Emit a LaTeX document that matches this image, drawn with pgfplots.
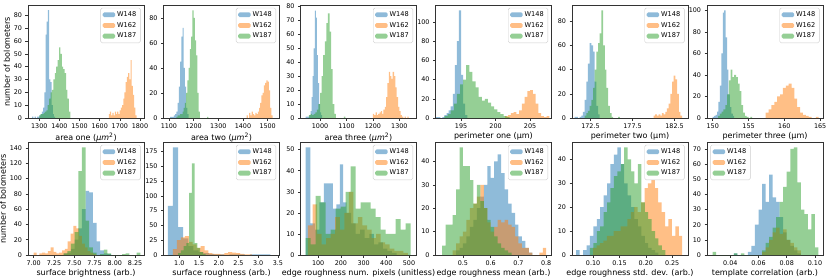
\documentclass[border=0pt]{standalone}
\usepackage{fontspec}
\setmainfont{DejaVu Sans}
\usepackage{pgfplots}
\pgfplotsset{compat=1.18}
\definecolor{cA}{RGB}{31,119,180}
\definecolor{cB}{RGB}{255,127,14}
\definecolor{cC}{RGB}{44,160,44}
\pgfplotsset{
 panel/.style={scale only axis, width=116pt, height=113pt, anchor=south west, ymin=0,
  axis line style={black!80, line width=0.5pt},
  tick align=outside, xtick pos=bottom, ytick pos=left,
  major tick length=2.5pt, tick style={black!80, line width=0.5pt},
  tick label style={font=\fontsize{6.4}{7}\selectfont, black},
  label style={font=\fontsize{8}{9}\selectfont},
  xlabel style={yshift=3pt},
  ylabel style={yshift=-3pt},
  /pgf/number format/assume math mode=true,
  /pgf/number format/1000 sep={},
  scaled ticks=false,
  legend style={at={(0.97,0.975)}, anchor=north east, draw=black!20, rounded corners=1.5pt,
    font=\fontsize{6.6}{7.6}\selectfont, inner xsep=2pt, inner ysep=1.5pt, row sep=0.3pt, cells={anchor=west}},
  legend image code/.code={\fill[##1] (0pt,-2.4pt) rectangle (12.5pt,2.4pt);},
 },
 hA/.style={const plot, draw=none, fill=cA, fill opacity=0.5},
 hB/.style={const plot, draw=none, fill=cB, fill opacity=0.5},
 hC/.style={const plot, draw=none, fill=cC, fill opacity=0.5},
}
\begin{document}
\begin{tikzpicture}
\path[use as bounding box] (0,0) rectangle (830pt,277pt);
% ---------- top row ----------
\begin{axis}[panel, at={(28pt,159pt)}, xmin=1244, xmax=1820, ymax=88,
  xtick={1300,1400,1500,1600,1700,1800}, ytick={0,10,20,30,40,50,60,70,80},
  xlabel={area one (\textit{μm}\textsuperscript{2})}, ylabel={number of bolometers}]
\addplot[hA] coordinates {(1265,1)(1271,0)(1277,1)(1283,0)(1289,1)(1295,1)(1301,2)(1307,3)(1313,5)(1319,8)(1325,20)(1331,65)(1337,75)(1343,84)(1349,30)(1355,28)(1361,10)(1367,3)(1373,1)(1379,0)} \closedcycle;
\addplot[hB] coordinates {(1645,3)(1651,5)(1657,2)(1663,4)(1669,2)(1675,5)(1681,3)(1687,5)(1693,3)(1699,6)(1705,8)(1711,10)(1717,15)(1723,20)(1729,28)(1735,32)(1741,35)(1747,30)(1753,45)(1759,25)(1765,18)(1771,8)(1777,2)(1783,0)} \closedcycle;
\addplot[hC] coordinates {(1300,2)(1307,3)(1314,3)(1321,4)(1328,5)(1335,6)(1342,10)(1349,15)(1356,20)(1363,22)(1370,30)(1377,35)(1384,40)(1391,45)(1398,55)(1405,50)(1412,40)(1419,38)(1426,35)(1433,22)(1440,15)(1447,5)(1454,0)} \closedcycle;
\legend{W148,W162,W187}
\end{axis}
\begin{axis}[panel, at={(163.5pt,159pt)}, xmin=1078, xmax=1548, ymax=90.3,
  xtick={1100,1200,1300,1400,1500}, ytick={0,20,40,60,80},
  xlabel={area two (\textit{μm}\textsuperscript{2})}]
\addplot[hA] coordinates {(1105,1)(1110,1)(1115,1)(1120,2)(1125,3)(1130,5)(1135,12)(1140,25)(1145,45)(1150,65)(1155,72)(1160,40)(1165,25)(1170,8)(1175,3)(1180,0)} \closedcycle;
\addplot[hB] coordinates {(1415,2)(1420,0)(1425,4)(1430,2)(1435,5)(1440,3)(1445,2)(1450,4)(1455,3)(1460,5)(1465,8)(1470,12)(1475,18)(1480,20)(1485,26)(1490,28)(1495,30)(1500,29)(1505,22)(1510,8)(1515,2)(1520,0)} \closedcycle;
\addplot[hC] coordinates {(1130,1)(1135,2)(1140,2)(1145,3)(1150,3)(1155,5)(1160,8)(1165,12)(1170,20)(1175,30)(1180,40)(1185,55)(1190,65)(1195,86)(1200,80)(1205,62)(1210,50)(1215,20)(1220,5)(1225,0)(1255,1)(1260,0)} \closedcycle;
\legend{W148,W162,W187}
\end{axis}
\begin{axis}[panel, at={(300.5pt,159pt)}, xmin=926, xmax=1365, ymax=81,
  xtick={1000,1100,1200,1300}, ytick={0,10,20,30,40,50,60,70,80},
  xlabel={area three (\textit{μm}\textsuperscript{2})}]
\addplot[hA] coordinates {(945,1)(950,1)(955,1)(960,2)(964,5)(968,15)(972,30)(976,50)(980,77)(984,72)(988,45)(992,25)(996,10)(1000,4)(1004,2)(1008,0)} \closedcycle;
\addplot[hB] coordinates {(1200,3)(1205,2)(1210,4)(1215,2)(1220,3)(1225,4)(1230,5)(1235,3)(1240,6)(1245,8)(1250,15)(1255,25)(1260,33)(1265,30)(1270,28)(1275,33)(1280,30)(1285,22)(1290,15)(1295,8)(1300,5)(1305,2)(1310,1)(1315,0)(1320,1)(1325,0)(1330,1)(1335,0)} \closedcycle;
\addplot[hC] coordinates {(958,2)(964,3)(970,2)(976,3)(982,4)(988,6)(994,10)(1000,18)(1006,30)(1012,45)(1018,55)(1024,68)(1030,75)(1036,62)(1042,35)(1048,10)(1054,3)(1060,0)(1090,1)(1096,0)} \closedcycle;
\legend{W148,W162,W187}
\end{axis}
\begin{axis}[panel, at={(435.5pt,159pt)}, xmin=191.3, xmax=208.1, ymax=117.6,
  xtick={195,200,205}, ytick={0,20,40,60,80,100},
  xlabel={perimeter one (μm)}]
\addplot[hA] coordinates {(191.4,1)(191.7,1)(192.0,0)(192.3,1)(192.6,3)(192.9,5)(193.2,8)(193.5,12)(193.8,25)(194.1,55)(194.4,80)(194.7,112)(195.0,45)(195.3,15)(195.6,3)(195.9,0)} \closedcycle;
\addplot[hB] coordinates {(201.4,2)(201.8,3)(202.2,5)(202.6,6)(203.0,4)(203.4,8)(203.8,15)(204.2,22)(204.6,28)(205.0,29)(205.4,25)(205.8,15)(206.2,5)(206.6,2)(207.0,1)(207.4,2)(207.8,0)} \closedcycle;
\addplot[hC] coordinates {(192.6,2)(193.05,4)(193.5,8)(193.95,15)(194.4,25)(194.85,35)(195.3,40)(195.75,55)(196.2,48)(196.65,38)(197.1,32)(197.55,22)(198.0,18)(198.45,20)(198.9,16)(199.35,12)(199.8,9)(200.25,6)(200.7,4)(201.15,2)(201.6,1)(202.05,0)} \closedcycle;
\legend{W148,W162,W187}
\end{axis}
\begin{axis}[panel, at={(572pt,159pt)}, xmin=170.3, xmax=184.1, ymax=93.5,
  xtick={172.5,177.5,182.5}, xticklabels={172.5,177.5,182.5}, ytick={0,20,40,60,80},
  xlabel={perimeter two (μm)}]
\addplot[hA] coordinates {(170.6,1)(170.8,1)(171.0,0)(171.2,1)(171.4,2)(171.6,5)(171.8,15)(172.0,30)(172.2,45)(172.4,62)(172.6,60)(172.8,55)(173.0,30)(173.2,10)(173.4,3)(173.6,0)} \closedcycle;
\addplot[hB] coordinates {(180.0,2)(180.2,3)(180.4,2)(180.6,3)(180.8,2)(181.0,4)(181.2,3)(181.4,5)(181.6,8)(181.8,12)(182.0,20)(182.2,30)(182.4,35)(182.6,32)(182.8,20)(183.0,5)(183.2,2)(183.4,0)} \closedcycle;
\addplot[hC] coordinates {(171.8,2)(172.0,4)(172.2,6)(172.4,10)(172.6,15)(172.8,25)(173.0,40)(173.2,55)(173.4,62)(173.6,70)(173.8,89)(174.0,60)(174.2,40)(174.4,25)(174.6,10)(174.8,4)(175.0,1)(175.2,0)(175.8,1)(176.0,0)} \closedcycle;
\legend{W148,W162,W187}
\end{axis}
\begin{axis}[panel, at={(707pt,159pt)}, xmin=149.2, xmax=165.4, ymax=105,
  xtick={150,155,160,165}, ytick={0,20,40,60,80,100},
  xlabel={perimeter three (μm)}]
\addplot[hA] coordinates {(150.0,1)(150.2,2)(150.4,3)(150.6,6)(150.8,15)(151.0,30)(151.2,60)(151.4,98)(151.6,100)(151.8,75)(152.0,45)(152.2,22)(152.4,10)(152.6,4)(152.8,2)(153.0,0)} \closedcycle;
\addplot[hB] coordinates {(157.4,5)(157.8,8)(158.2,12)(158.6,15)(159.0,20)(159.4,22)(159.8,28)(160.2,30)(160.6,32)(161.0,28)(161.4,18)(161.8,10)(162.2,5)(162.6,3)(163.0,2)(163.4,1)(163.8,0)(164.4,1)(164.8,0)} \closedcycle;
\addplot[hC] coordinates {(150.75,2)(151.0,4)(151.25,6)(151.5,8)(151.75,12)(152.0,22)(152.25,35)(152.5,45)(152.75,38)(153.0,40)(153.25,38)(153.5,32)(153.75,25)(154.0,12)(154.25,5)(154.5,2)(154.75,1)(155.0,0)(155.25,1)(155.5,0)} \closedcycle;
\legend{W148,W162,W187}
\end{axis}
% ---------- bottom row ----------
\begin{axis}[panel, at={(28pt,22pt)}, xmin=6.93, xmax=8.36, ymax=148,
  xtick={7,7.25,7.5,7.75,8,8.25}, xticklabels={7.00,7.25,7.50,7.75,8.00,8.25}, ytick={0,20,40,60,80,100,120,140},
  xlabel={surface brightness (arb.)}, ylabel={number of bolometers}]
\addplot[hA] coordinates {(7.37,2)(7.415,3)(7.46,8)(7.505,20)(7.55,35)(7.595,60)(7.64,84)(7.685,82)(7.73,42)(7.775,18)(7.82,6)(7.865,2)(7.91,1)(7.955,0)} \closedcycle;
\addplot[hB] coordinates {(7.00,3)(7.035,0)(7.07,2)(7.105,3)(7.14,2)(7.175,5)(7.21,10)(7.245,4)(7.28,2)(7.315,3)(7.35,6)(7.385,8)(7.42,18)(7.455,28)(7.49,38)(7.525,35)(7.56,25)(7.595,15)(7.63,10)(7.665,5)(7.70,3)(7.735,1)(7.77,0)} \closedcycle;
\addplot[hC] coordinates {(7.37,2)(7.415,5)(7.46,15)(7.505,30)(7.55,110)(7.595,141)(7.64,45)(7.685,10)(7.73,3)(7.775,0)(7.82,1)(7.865,7)(7.91,2)(7.955,0)(8.09,1)(8.135,2)(8.18,0)(8.27,3)(8.315,0)} \closedcycle;
\legend{W148,W162,W187}
\end{axis}
\begin{axis}[panel, at={(163.5pt,22pt)}, xmin=0.6, xmax=3.54, ymax=191,
  xtick={1,1.5,2,2.5,3,3.5}, xticklabels={1.0,1.5,2.0,2.5,3.0,3.5}, ytick={0,25,50,75,100,125,150,175},
  xlabel={surface roughness (arb.)}]
\addplot[hA] coordinates {(0.71,83)(0.84,182)(0.97,47)(1.10,28)(1.23,15)(1.36,8)(1.49,5)(1.62,3)(1.75,2)(1.88,1)(2.01,1)(2.14,0)(2.27,1)(2.40,1)(2.53,1)(2.66,0)(2.79,1)(2.92,1)(3.05,1)(3.18,1)(3.31,0)} \closedcycle;
\addplot[hB] coordinates {(0.84,10)(0.94,25)(1.04,30)(1.14,32)(1.24,22)(1.34,18)(1.44,12)(1.54,15)(1.64,8)(1.74,3)(1.84,2)(1.94,2)(2.04,1)(2.14,3)(2.24,5)(2.34,4)(2.44,3)(2.54,2)(2.64,1)(2.74,1)(2.84,0)} \closedcycle;
\addplot[hC] coordinates {(0.97,3)(1.04,8)(1.11,15)(1.18,20)(1.25,105)(1.32,155)(1.39,20)(1.46,12)(1.53,5)(1.60,2)(1.67,0)} \closedcycle;
\legend{W148,W162,W187}
\end{axis}
\begin{axis}[panel, at={(300.5pt,22pt)}, xmin=22, xmax=533, ymax=53.6,
  xtick={100,200,300,400,500}, ytick={0,10,20,30,40,50},
  xlabel={edge roughness num. pixels (unitless)}]
\addplot[hA] coordinates {(45,51)(65,15)(85,12)(105,25)(125,34)(145,34)(165,22)(180,24)(195,43)(210,25)(225,20)(245,15)(265,10)(285,12)(305,8)(325,10)(345,5)(365,6)(385,3)(405,2)(425,1)(445,0)} \closedcycle;
\addplot[hB] coordinates {(55,14)(75,24)(95,10)(115,5)(135,8)(155,10)(175,18)(195,12)(215,20)(235,30)(255,15)(275,18)(295,14)(315,12)(335,8)(355,10)(375,6)(395,5)(415,3)(435,2)(455,2)(475,1)(495,0)} \closedcycle;
\addplot[hC] coordinates {(45,8)(67,5)(89,28)(111,25)(133,10)(155,12)(177,22)(199,23)(221,30)(243,42)(265,22)(287,25)(309,25)(331,22)(353,18)(375,12)(397,10)(419,10)(441,17)(463,12)(485,15)(507,0)} \closedcycle;
\legend{W148,W162,W187}
\end{axis}
\begin{axis}[panel, at={(435.5pt,22pt)}, xmin=0.401, xmax=0.819, ymax=48.3,
  xtick={0.5,0.6,0.7,0.8}, xticklabels={0.5,0.6,0.7,0.8}, ytick={0,10,20,30,40},
  xlabel={edge roughness mean (arb.)}]
\addplot[hA] coordinates {(0.475,2)(0.4875,3)(0.5,5)(0.5125,8)(0.525,12)(0.5375,15)(0.55,20)(0.5625,25)(0.575,30)(0.5875,38)(0.6,33)(0.6125,40)(0.625,43)(0.6375,35)(0.65,28)(0.6625,22)(0.675,18)(0.6875,13)(0.7,8)(0.7125,6)(0.725,3)(0.7375,1)(0.75,0)} \closedcycle;
\addplot[hB] coordinates {(0.4625,2)(0.475,5)(0.4875,8)(0.5,10)(0.5125,15)(0.525,20)(0.5375,22)(0.55,25)(0.5625,30)(0.575,20)(0.5875,14)(0.6,10)(0.6125,12)(0.625,15)(0.6375,14)(0.65,15)(0.6625,13)(0.675,12)(0.6875,8)(0.7,5)(0.7125,3)(0.725,3)(0.7375,1)(0.75,0)(0.775,1)(0.7875,3)(0.8,0)} \closedcycle;
\addplot[hC] coordinates {(0.425,4)(0.4375,13)(0.45,13)(0.4625,17)(0.475,28)(0.4875,46)(0.5,38)(0.5125,38)(0.525,32)(0.5375,22)(0.55,30)(0.5625,23)(0.575,20)(0.5875,15)(0.6,12)(0.6125,8)(0.625,5)(0.6375,3)(0.65,2)(0.6625,1)(0.675,0)} \closedcycle;
\legend{W148,W162,W187}
\end{axis}
\begin{axis}[panel, at={(572pt,22pt)}, xmin=0.06, xmax=0.28, ymax=47.3,
  xtick={0.1,0.15,0.2,0.25}, xticklabels={0.10,0.15,0.20,0.25}, ytick={0,10,20,30,40},
  xlabel={edge roughness std. dev. (arb.)}]
\addplot[hA] coordinates {(0.068,2)(0.0745,0)(0.081,2)(0.0875,4)(0.094,8)(0.1005,12)(0.107,15)(0.1135,20)(0.12,25)(0.1265,30)(0.133,38)(0.1395,42)(0.146,45)(0.1525,38)(0.159,30)(0.1655,25)(0.172,20)(0.1785,15)(0.185,12)(0.1915,8)(0.198,5)(0.2045,3)(0.211,2)(0.2175,1)(0.224,0)} \closedcycle;
\addplot[hB] coordinates {(0.1,3)(0.1065,4)(0.113,5)(0.1195,6)(0.126,8)(0.1325,8)(0.139,10)(0.1455,10)(0.152,12)(0.1585,12)(0.165,15)(0.1715,18)(0.178,20)(0.1845,18)(0.191,22)(0.1975,28)(0.204,30)(0.2105,33)(0.217,28)(0.2235,22)(0.23,18)(0.2365,12)(0.243,15)(0.2495,8)(0.256,12)(0.2625,8)(0.269,0)} \closedcycle;
\addplot[hC] coordinates {(0.094,3)(0.1005,5)(0.107,10)(0.1135,12)(0.12,18)(0.1265,22)(0.133,28)(0.1395,33)(0.146,35)(0.1525,38)(0.159,45)(0.1655,40)(0.172,35)(0.1785,30)(0.185,38)(0.1915,22)(0.198,18)(0.2045,15)(0.211,10)(0.2175,7)(0.224,4)(0.2305,2)(0.237,0)} \closedcycle;
\legend{W148,W162,W187}
\end{axis}
\begin{axis}[panel, at={(707pt,22pt)}, xmin=0.0235, xmax=0.1057, ymax=74.6,
  xtick={0.04,0.06,0.08,0.1}, xticklabels={0.04,0.06,0.08,0.10}, ytick={0,10,20,30,40,50,60,70},
  xlabel={template correlation (arb.)},
  legend style={at={(0.03,0.975)}, anchor=north west}]
\addplot[hA] coordinates {(0.0425,1)(0.045,0)(0.0525,2)(0.055,6)(0.0575,20)(0.06,30)(0.0625,47)(0.065,35)(0.0675,53)(0.07,38)(0.0725,35)(0.075,25)(0.0775,15)(0.08,10)(0.0825,6)(0.085,3)(0.0875,1)(0.09,0)} \closedcycle;
\addplot[hB] coordinates {(0.0625,2)(0.065,5)(0.0675,10)(0.07,15)(0.0725,18)(0.075,14)(0.0775,17)(0.08,10)(0.0825,8)(0.085,5)(0.0875,3)(0.09,0)} \closedcycle;
\addplot[hC] coordinates {(0.0275,2)(0.03,0)(0.0425,1)(0.045,0)(0.0475,1)(0.05,0)(0.0625,3)(0.065,8)(0.0675,12)(0.07,18)(0.0725,25)(0.075,35)(0.0775,45)(0.08,55)(0.0825,70)(0.085,71)(0.0875,48)(0.09,30)(0.0925,27)(0.095,17)(0.0975,27)(0.1,5)(0.1025,0)} \closedcycle;
\legend{W148,W162,W187}
\end{axis}
\end{tikzpicture}
\end{document}
